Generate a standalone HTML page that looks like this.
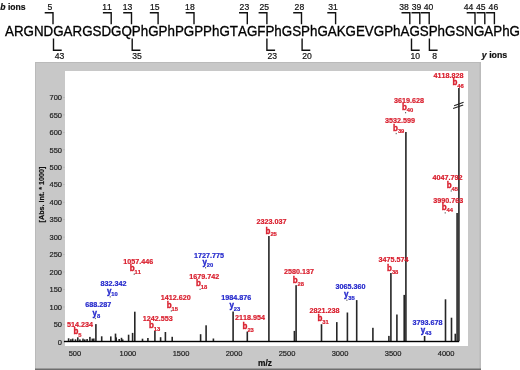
<!DOCTYPE html><html><head><meta charset="utf-8"><style>
html,body{margin:0;padding:0;background:#fff;width:520px;height:370px;overflow:hidden}
svg{will-change:transform}
svg{display:block;font-family:"Liberation Sans",sans-serif;font-kerning:none;font-feature-settings:"kern" 0}
</style></head><body>
<svg width="520" height="370" viewBox="0 0 520 370">
<rect x="35" y="62" width="446" height="308" fill="#c8c8c8"/>
<rect x="479.6" y="62" width="1" height="308" fill="#b4b4b4"/>
<rect x="35" y="62" width="1" height="308" fill="#bababa"/>
<rect x="35" y="62" width="446" height="1" fill="#bababa"/>
<rect x="35" y="368.5" width="446" height="1.5" fill="#6e6e6e"/>
<rect x="65" y="71" width="403" height="275" fill="#fff"/>
<text x="5.0" y="35.7" font-size="13.37" fill="#000" stroke="#000" stroke-width="0.3" transform="translate(0 35.7) scale(1 1.045) translate(0 -35.7)">ARGNDGARGSDGQPhGPhPGPPhGTAGFPhGSPhGAKGEVGPhAGSPhGSNGAPhG</text>
<path d="M44.7 12.8H53.0V24.2" fill="none" stroke="#111" stroke-width="1.4"/>
<text x="50" y="9.7" font-size="8.6" text-anchor="middle" fill="#111" stroke="#111" stroke-width="0.2">5</text>
<path d="M102.9 12.8H111.2V24.2" fill="none" stroke="#111" stroke-width="1.4"/>
<text x="107" y="9.7" font-size="8.6" text-anchor="middle" fill="#111" stroke="#111" stroke-width="0.2">11</text>
<path d="M123.2 12.8H131.5V24.2" fill="none" stroke="#111" stroke-width="1.4"/>
<text x="127.5" y="9.7" font-size="8.6" text-anchor="middle" fill="#111" stroke="#111" stroke-width="0.2">13</text>
<path d="M149.8 12.8H158.1V24.2" fill="none" stroke="#111" stroke-width="1.4"/>
<text x="154.7" y="9.7" font-size="8.6" text-anchor="middle" fill="#111" stroke="#111" stroke-width="0.2">15</text>
<path d="M185.7 12.8H194.0V24.2" fill="none" stroke="#111" stroke-width="1.4"/>
<text x="189.9" y="9.7" font-size="8.6" text-anchor="middle" fill="#111" stroke="#111" stroke-width="0.2">18</text>
<path d="M239.0 12.8H247.3V24.2" fill="none" stroke="#111" stroke-width="1.4"/>
<text x="244.4" y="9.7" font-size="8.6" text-anchor="middle" fill="#111" stroke="#111" stroke-width="0.2">23</text>
<path d="M258.6 12.8H266.9V24.2" fill="none" stroke="#111" stroke-width="1.4"/>
<text x="264.3" y="9.7" font-size="8.6" text-anchor="middle" fill="#111" stroke="#111" stroke-width="0.2">25</text>
<path d="M293.2 12.8H301.5V24.2" fill="none" stroke="#111" stroke-width="1.4"/>
<text x="299.4" y="9.7" font-size="8.6" text-anchor="middle" fill="#111" stroke="#111" stroke-width="0.2">28</text>
<path d="M327.3 12.8H335.6V24.2" fill="none" stroke="#111" stroke-width="1.4"/>
<text x="333" y="9.7" font-size="8.6" text-anchor="middle" fill="#111" stroke="#111" stroke-width="0.2">31</text>
<path d="M401.5 12.8H409.8V24.2" fill="none" stroke="#111" stroke-width="1.4"/>
<text x="404.1" y="9.7" font-size="8.6" text-anchor="middle" fill="#111" stroke="#111" stroke-width="0.2">38</text>
<path d="M411.5 12.8H419.8V24.2" fill="none" stroke="#111" stroke-width="1.4"/>
<text x="416.6" y="9.7" font-size="8.6" text-anchor="middle" fill="#111" stroke="#111" stroke-width="0.2">39</text>
<path d="M420.9 12.8H429.2V24.2" fill="none" stroke="#111" stroke-width="1.4"/>
<text x="428.5" y="9.7" font-size="8.6" text-anchor="middle" fill="#111" stroke="#111" stroke-width="0.2">40</text>
<path d="M466.7 12.8H475.0V24.2" fill="none" stroke="#111" stroke-width="1.4"/>
<text x="468.6" y="9.7" font-size="8.6" text-anchor="middle" fill="#111" stroke="#111" stroke-width="0.2">44</text>
<path d="M476.5 12.8H484.8V24.2" fill="none" stroke="#111" stroke-width="1.4"/>
<text x="480.8" y="9.7" font-size="8.6" text-anchor="middle" fill="#111" stroke="#111" stroke-width="0.2">45</text>
<path d="M486.1 12.8H494.4V24.2" fill="none" stroke="#111" stroke-width="1.4"/>
<text x="493.4" y="9.7" font-size="8.6" text-anchor="middle" fill="#111" stroke="#111" stroke-width="0.2">46</text>
<path d="M53.5 38.4V50.2H61.7" fill="none" stroke="#111" stroke-width="1.4"/>
<text x="59.5" y="58.6" font-size="8.6" text-anchor="middle" fill="#111" stroke="#111" stroke-width="0.2">43</text>
<path d="M132.2 38.4V50.2H140.4" fill="none" stroke="#111" stroke-width="1.4"/>
<text x="137" y="58.6" font-size="8.6" text-anchor="middle" fill="#111" stroke="#111" stroke-width="0.2">35</text>
<path d="M266.9 38.4V50.2H275.1" fill="none" stroke="#111" stroke-width="1.4"/>
<text x="272.3" y="58.6" font-size="8.6" text-anchor="middle" fill="#111" stroke="#111" stroke-width="0.2">23</text>
<path d="M302.1 38.4V50.2H310.3" fill="none" stroke="#111" stroke-width="1.4"/>
<text x="307" y="58.6" font-size="8.6" text-anchor="middle" fill="#111" stroke="#111" stroke-width="0.2">20</text>
<path d="M411.5 38.4V50.2H419.7" fill="none" stroke="#111" stroke-width="1.4"/>
<text x="415.2" y="58.6" font-size="8.6" text-anchor="middle" fill="#111" stroke="#111" stroke-width="0.2">10</text>
<path d="M429.4 38.4V50.2H437.6" fill="none" stroke="#111" stroke-width="1.4"/>
<text x="434.6" y="58.6" font-size="8.6" text-anchor="middle" fill="#111" stroke="#111" stroke-width="0.2">8</text>
<text x="0.3" y="9.6" font-size="8.6" font-weight="bold" fill="#111" stroke="#111" stroke-width="0.2"><tspan font-style="italic">b</tspan> ions</text>
<text x="481.8" y="58.1" font-size="8.8" font-weight="bold" fill="#111" stroke="#111" stroke-width="0.2"><tspan font-style="italic">y</tspan> ions</text>
<text x="62" y="344.6" font-size="7.5" text-anchor="end" fill="#222" stroke="#222" stroke-width="0.2">0</text>
<rect x="63" y="341.6" width="1.8" height="0.6" fill="#aaa"/>
<text x="62" y="327.1" font-size="7.5" text-anchor="end" fill="#222" stroke="#222" stroke-width="0.2">50</text>
<rect x="63" y="324.1" width="1.8" height="0.6" fill="#aaa"/>
<text x="62" y="309.7" font-size="7.5" text-anchor="end" fill="#222" stroke="#222" stroke-width="0.2">100</text>
<rect x="63" y="306.7" width="1.8" height="0.6" fill="#aaa"/>
<text x="62" y="292.2" font-size="7.5" text-anchor="end" fill="#222" stroke="#222" stroke-width="0.2">150</text>
<rect x="63" y="289.2" width="1.8" height="0.6" fill="#aaa"/>
<text x="62" y="274.7" font-size="7.5" text-anchor="end" fill="#222" stroke="#222" stroke-width="0.2">200</text>
<rect x="63" y="271.7" width="1.8" height="0.6" fill="#aaa"/>
<text x="62" y="257.3" font-size="7.5" text-anchor="end" fill="#222" stroke="#222" stroke-width="0.2">250</text>
<rect x="63" y="254.3" width="1.8" height="0.6" fill="#aaa"/>
<text x="62" y="239.8" font-size="7.5" text-anchor="end" fill="#222" stroke="#222" stroke-width="0.2">300</text>
<rect x="63" y="236.8" width="1.8" height="0.6" fill="#aaa"/>
<text x="62" y="222.3" font-size="7.5" text-anchor="end" fill="#222" stroke="#222" stroke-width="0.2">350</text>
<rect x="63" y="219.3" width="1.8" height="0.6" fill="#aaa"/>
<text x="62" y="204.9" font-size="7.5" text-anchor="end" fill="#222" stroke="#222" stroke-width="0.2">400</text>
<rect x="63" y="201.9" width="1.8" height="0.6" fill="#aaa"/>
<text x="62" y="187.4" font-size="7.5" text-anchor="end" fill="#222" stroke="#222" stroke-width="0.2">450</text>
<rect x="63" y="184.4" width="1.8" height="0.6" fill="#aaa"/>
<text x="62" y="169.9" font-size="7.5" text-anchor="end" fill="#222" stroke="#222" stroke-width="0.2">500</text>
<rect x="63" y="166.9" width="1.8" height="0.6" fill="#aaa"/>
<text x="62" y="152.5" font-size="7.5" text-anchor="end" fill="#222" stroke="#222" stroke-width="0.2">550</text>
<rect x="63" y="149.5" width="1.8" height="0.6" fill="#aaa"/>
<text x="62" y="135.0" font-size="7.5" text-anchor="end" fill="#222" stroke="#222" stroke-width="0.2">600</text>
<rect x="63" y="132.0" width="1.8" height="0.6" fill="#aaa"/>
<text x="62" y="117.6" font-size="7.5" text-anchor="end" fill="#222" stroke="#222" stroke-width="0.2">650</text>
<rect x="63" y="114.6" width="1.8" height="0.6" fill="#aaa"/>
<text x="62" y="100.1" font-size="7.5" text-anchor="end" fill="#222" stroke="#222" stroke-width="0.2">700</text>
<rect x="63" y="97.1" width="1.8" height="0.6" fill="#aaa"/>
<text x="74.9" y="356.3" font-size="7.5" text-anchor="middle" fill="#222" stroke="#222" stroke-width="0.2">500</text>
<text x="127.9" y="356.3" font-size="7.5" text-anchor="middle" fill="#222" stroke="#222" stroke-width="0.2">1000</text>
<text x="181.0" y="356.3" font-size="7.5" text-anchor="middle" fill="#222" stroke="#222" stroke-width="0.2">1500</text>
<text x="234.0" y="356.3" font-size="7.5" text-anchor="middle" fill="#222" stroke="#222" stroke-width="0.2">2000</text>
<text x="287.0" y="356.3" font-size="7.5" text-anchor="middle" fill="#222" stroke="#222" stroke-width="0.2">2500</text>
<text x="340.0" y="356.3" font-size="7.5" text-anchor="middle" fill="#222" stroke="#222" stroke-width="0.2">3000</text>
<text x="393.1" y="356.3" font-size="7.5" text-anchor="middle" fill="#222" stroke="#222" stroke-width="0.2">3500</text>
<text x="446.1" y="356.3" font-size="7.5" text-anchor="middle" fill="#222" stroke="#222" stroke-width="0.2">4000</text>
<text x="265" y="365.8" font-size="8.4" font-weight="bold" text-anchor="middle" fill="#111" stroke="#111" stroke-width="0.2">m/z</text>
<text transform="translate(43.6,194.5) rotate(-90)" font-size="7.2" font-weight="bold" text-anchor="middle" fill="#111" stroke="#111" stroke-width="0.2">[Abs. Int. * 1000]</text>
<rect x="67.8" y="338.3" width="1.6" height="2.7" fill="#262626"/>
<rect x="70.1" y="339.2" width="1.6" height="1.8" fill="#262626"/>
<rect x="71.9" y="338.6" width="1.6" height="2.4" fill="#262626"/>
<rect x="74.7" y="339.3" width="1.6" height="1.7" fill="#262626"/>
<rect x="77.0" y="337.3" width="1.6" height="3.7" fill="#262626"/>
<rect x="79.1" y="339.4" width="1.6" height="1.6" fill="#262626"/>
<rect x="82.2" y="338.6" width="1.6" height="2.4" fill="#262626"/>
<rect x="84.0" y="339.4" width="1.6" height="1.6" fill="#262626"/>
<rect x="86.3" y="339.0" width="1.6" height="2.0" fill="#262626"/>
<rect x="89.1" y="336.9" width="1.6" height="4.1" fill="#262626"/>
<rect x="91.5" y="338.6" width="1.6" height="2.4" fill="#262626"/>
<rect x="93.0" y="338.5" width="1.6" height="2.5" fill="#262626"/>
<rect x="95.1" y="324.1" width="1.6" height="16.9" fill="#262626"/>
<rect x="100.9" y="336.3" width="1.6" height="4.7" fill="#262626"/>
<rect x="110.0" y="336.4" width="1.6" height="4.6" fill="#262626"/>
<rect x="114.7" y="333.6" width="1.6" height="7.4" fill="#262626"/>
<rect x="115.4" y="337.4" width="1.6" height="3.6" fill="#262626"/>
<rect x="118.4" y="339.0" width="1.6" height="2.0" fill="#262626"/>
<rect x="120.7" y="337.8" width="1.6" height="3.2" fill="#262626"/>
<rect x="121.9" y="339.4" width="1.6" height="1.6" fill="#262626"/>
<rect x="127.8" y="334.7" width="1.6" height="6.3" fill="#262626"/>
<rect x="131.8" y="332.9" width="1.6" height="8.1" fill="#262626"/>
<rect x="134.0" y="311.7" width="1.6" height="29.3" fill="#262626"/>
<rect x="141.7" y="338.7" width="1.6" height="2.3" fill="#262626"/>
<rect x="147.1" y="338.0" width="1.6" height="3.0" fill="#262626"/>
<rect x="154.1" y="331.0" width="1.6" height="10.0" fill="#262626"/>
<rect x="159.8" y="337.2" width="1.6" height="3.8" fill="#262626"/>
<rect x="164.6" y="332.0" width="1.6" height="9.0" fill="#262626"/>
<rect x="171.4" y="336.8" width="1.6" height="4.2" fill="#262626"/>
<rect x="199.8" y="334.2" width="1.6" height="6.8" fill="#262626"/>
<rect x="205.3" y="325.3" width="1.6" height="15.7" fill="#262626"/>
<rect x="212.6" y="338.5" width="1.6" height="2.5" fill="#262626"/>
<rect x="232.3" y="311.5" width="1.6" height="29.5" fill="#262626"/>
<rect x="246.5" y="331.6" width="1.6" height="9.4" fill="#262626"/>
<rect x="268.1" y="236.0" width="1.6" height="105.0" fill="#262626"/>
<rect x="293.6" y="330.9" width="1.6" height="10.1" fill="#262626"/>
<rect x="295.3" y="285.2" width="1.6" height="55.8" fill="#262626"/>
<rect x="320.7" y="324.2" width="1.6" height="16.8" fill="#262626"/>
<rect x="336.0" y="322.1" width="1.6" height="18.9" fill="#262626"/>
<rect x="346.6" y="312.5" width="1.6" height="28.5" fill="#262626"/>
<rect x="355.9" y="300.1" width="1.6" height="40.9" fill="#262626"/>
<rect x="372.1" y="327.8" width="1.6" height="13.2" fill="#262626"/>
<rect x="388.1" y="335.9" width="1.6" height="5.1" fill="#262626"/>
<rect x="390.1" y="273.0" width="1.6" height="68.0" fill="#262626"/>
<rect x="396.1" y="314.5" width="1.6" height="26.5" fill="#262626"/>
<rect x="403.4" y="294.9" width="1.6" height="46.1" fill="#262626"/>
<rect x="405.1" y="132.0" width="1.6" height="209.0" fill="#262626"/>
<rect x="423.8" y="336.0" width="1.6" height="5.0" fill="#262626"/>
<rect x="444.7" y="299.3" width="1.6" height="41.7" fill="#262626"/>
<rect x="450.7" y="317.7" width="1.6" height="23.3" fill="#262626"/>
<rect x="454.5" y="333.7" width="1.6" height="7.3" fill="#262626"/>
<rect x="456.3" y="213.0" width="1.6" height="128.0" fill="#262626"/>
<rect x="458.1" y="88.0" width="1.6" height="253.0" fill="#262626"/>
<rect x="64" y="340.8" width="395.2" height="1.4" fill="#000"/>
<path d="M454.1 105.8L463.6 102.3M453.1 108.6L463.2 104.9" stroke="#222" stroke-width="1.1"/>
<text x="80.0" y="327.1" font-size="7.2" font-weight="bold" text-anchor="middle" fill="#d91d2c" stroke="#d91d2c" stroke-width="0.2">514.234</text>
<text x="73.4" y="334.3" font-size="8.0" font-weight="bold" fill="#d91d2c" stroke="#d91d2c" stroke-width="0.35" transform="translate(0 334.3) scale(1 1.18) translate(0 -334.3)">b</text>
<text x="78.2" y="336.7" font-size="5.8" font-weight="bold" fill="#d91d2c" stroke="#d91d2c" stroke-width="0.2">5</text>
<text x="98.3" y="307.1" font-size="7.2" font-weight="bold" text-anchor="middle" fill="#2428cc" stroke="#2428cc" stroke-width="0.2">688.287</text>
<text x="92.6" y="315.6" font-size="8.0" font-weight="bold" fill="#2428cc" stroke="#2428cc" stroke-width="0.35" transform="translate(0 315.6) scale(1 1.18) translate(0 -315.6)">y</text>
<text x="96.9" y="318.0" font-size="5.8" font-weight="bold" fill="#2428cc" stroke="#2428cc" stroke-width="0.2">8</text>
<rect x="94.8" y="317.8" width="1" height="1.3" fill="#555"/>
<text x="113.6" y="285.8" font-size="7.2" font-weight="bold" text-anchor="middle" fill="#2428cc" stroke="#2428cc" stroke-width="0.2">832.342</text>
<text x="107.0" y="294.0" font-size="8.0" font-weight="bold" fill="#2428cc" stroke="#2428cc" stroke-width="0.35" transform="translate(0 294.0) scale(1 1.18) translate(0 -294.0)">y</text>
<text x="111.3" y="296.4" font-size="5.8" font-weight="bold" fill="#2428cc" stroke="#2428cc" stroke-width="0.2">10</text>
<rect x="109.7" y="296.2" width="1" height="1.3" fill="#555"/>
<text x="138.2" y="263.6" font-size="7.2" font-weight="bold" text-anchor="middle" fill="#d91d2c" stroke="#d91d2c" stroke-width="0.2">1057.446</text>
<text x="129.7" y="271.4" font-size="8.0" font-weight="bold" fill="#d91d2c" stroke="#d91d2c" stroke-width="0.35" transform="translate(0 271.4) scale(1 1.18) translate(0 -271.4)">b</text>
<text x="134.5" y="273.8" font-size="5.8" font-weight="bold" fill="#d91d2c" stroke="#d91d2c" stroke-width="0.2">11</text>
<rect x="133.7" y="273.6" width="1" height="1.3" fill="#555"/>
<text x="157.8" y="320.9" font-size="7.2" font-weight="bold" text-anchor="middle" fill="#d91d2c" stroke="#d91d2c" stroke-width="0.2">1242.553</text>
<text x="149.0" y="328.4" font-size="8.0" font-weight="bold" fill="#d91d2c" stroke="#d91d2c" stroke-width="0.35" transform="translate(0 328.4) scale(1 1.18) translate(0 -328.4)">b</text>
<text x="153.8" y="330.8" font-size="5.8" font-weight="bold" fill="#d91d2c" stroke="#d91d2c" stroke-width="0.2">13</text>
<text x="175.8" y="300.0" font-size="7.2" font-weight="bold" text-anchor="middle" fill="#d91d2c" stroke="#d91d2c" stroke-width="0.2">1412.620</text>
<text x="166.7" y="308.1" font-size="8.0" font-weight="bold" fill="#d91d2c" stroke="#d91d2c" stroke-width="0.35" transform="translate(0 308.1) scale(1 1.18) translate(0 -308.1)">b</text>
<text x="171.5" y="310.5" font-size="5.8" font-weight="bold" fill="#d91d2c" stroke="#d91d2c" stroke-width="0.2">15</text>
<rect x="170.8" y="310.3" width="1" height="1.3" fill="#555"/>
<text x="204.3" y="279.2" font-size="7.2" font-weight="bold" text-anchor="middle" fill="#d91d2c" stroke="#d91d2c" stroke-width="0.2">1679.742</text>
<text x="196.0" y="286.5" font-size="8.0" font-weight="bold" fill="#d91d2c" stroke="#d91d2c" stroke-width="0.35" transform="translate(0 286.5) scale(1 1.18) translate(0 -286.5)">b</text>
<text x="200.8" y="288.9" font-size="5.8" font-weight="bold" fill="#d91d2c" stroke="#d91d2c" stroke-width="0.2">18</text>
<rect x="199.6" y="288.7" width="1" height="1.3" fill="#555"/>
<text x="208.9" y="257.6" font-size="7.2" font-weight="bold" text-anchor="middle" fill="#2428cc" stroke="#2428cc" stroke-width="0.2">1727.775</text>
<text x="202.4" y="264.9" font-size="8.0" font-weight="bold" fill="#2428cc" stroke="#2428cc" stroke-width="0.35" transform="translate(0 264.9) scale(1 1.18) translate(0 -264.9)">y</text>
<text x="206.7" y="267.3" font-size="5.8" font-weight="bold" fill="#2428cc" stroke="#2428cc" stroke-width="0.2">20</text>
<rect x="205.1" y="267.1" width="1" height="1.3" fill="#555"/>
<text x="236.3" y="300.2" font-size="7.2" font-weight="bold" text-anchor="middle" fill="#2428cc" stroke="#2428cc" stroke-width="0.2">1984.876</text>
<text x="229.5" y="308.4" font-size="8.0" font-weight="bold" fill="#2428cc" stroke="#2428cc" stroke-width="0.35" transform="translate(0 308.4) scale(1 1.18) translate(0 -308.4)">y</text>
<text x="233.8" y="310.8" font-size="5.8" font-weight="bold" fill="#2428cc" stroke="#2428cc" stroke-width="0.2">23</text>
<text x="250.0" y="320.3" font-size="7.2" font-weight="bold" text-anchor="middle" fill="#d91d2c" stroke="#d91d2c" stroke-width="0.2">2118.954</text>
<text x="242.6" y="329.4" font-size="8.0" font-weight="bold" fill="#d91d2c" stroke="#d91d2c" stroke-width="0.35" transform="translate(0 329.4) scale(1 1.18) translate(0 -329.4)">b</text>
<text x="247.4" y="331.8" font-size="5.8" font-weight="bold" fill="#d91d2c" stroke="#d91d2c" stroke-width="0.2">23</text>
<text x="271.6" y="223.6" font-size="7.2" font-weight="bold" text-anchor="middle" fill="#d91d2c" stroke="#d91d2c" stroke-width="0.2">2323.037</text>
<text x="265.6" y="233.7" font-size="8.0" font-weight="bold" fill="#d91d2c" stroke="#d91d2c" stroke-width="0.35" transform="translate(0 233.7) scale(1 1.18) translate(0 -233.7)">b</text>
<text x="270.4" y="236.1" font-size="5.8" font-weight="bold" fill="#d91d2c" stroke="#d91d2c" stroke-width="0.2">25</text>
<text x="299.1" y="273.6" font-size="7.2" font-weight="bold" text-anchor="middle" fill="#d91d2c" stroke="#d91d2c" stroke-width="0.2">2580.137</text>
<text x="292.7" y="283.1" font-size="8.0" font-weight="bold" fill="#d91d2c" stroke="#d91d2c" stroke-width="0.35" transform="translate(0 283.1) scale(1 1.18) translate(0 -283.1)">b</text>
<text x="297.5" y="285.5" font-size="5.8" font-weight="bold" fill="#d91d2c" stroke="#d91d2c" stroke-width="0.2">28</text>
<text x="324.4" y="313.3" font-size="7.2" font-weight="bold" text-anchor="middle" fill="#d91d2c" stroke="#d91d2c" stroke-width="0.2">2821.238</text>
<text x="317.4" y="321.5" font-size="8.0" font-weight="bold" fill="#d91d2c" stroke="#d91d2c" stroke-width="0.35" transform="translate(0 321.5) scale(1 1.18) translate(0 -321.5)">b</text>
<text x="322.2" y="323.9" font-size="5.8" font-weight="bold" fill="#d91d2c" stroke="#d91d2c" stroke-width="0.2">31</text>
<text x="350.4" y="288.5" font-size="7.2" font-weight="bold" text-anchor="middle" fill="#2428cc" stroke="#2428cc" stroke-width="0.2">3065.360</text>
<text x="343.9" y="297.4" font-size="8.0" font-weight="bold" fill="#2428cc" stroke="#2428cc" stroke-width="0.35" transform="translate(0 297.4) scale(1 1.18) translate(0 -297.4)">y</text>
<text x="348.2" y="299.8" font-size="5.8" font-weight="bold" fill="#2428cc" stroke="#2428cc" stroke-width="0.2">35</text>
<rect x="346.4" y="299.6" width="1" height="1.3" fill="#555"/>
<text x="393.5" y="261.9" font-size="7.2" font-weight="bold" text-anchor="middle" fill="#d91d2c" stroke="#d91d2c" stroke-width="0.2">3475.574</text>
<text x="387.1" y="271.1" font-size="8.0" font-weight="bold" fill="#d91d2c" stroke="#d91d2c" stroke-width="0.35" transform="translate(0 271.1) scale(1 1.18) translate(0 -271.1)">b</text>
<text x="391.9" y="273.5" font-size="5.8" font-weight="bold" fill="#d91d2c" stroke="#d91d2c" stroke-width="0.2">38</text>
<text x="399.9" y="123.0" font-size="7.2" font-weight="bold" text-anchor="middle" fill="#d91d2c" stroke="#d91d2c" stroke-width="0.2">3532.599</text>
<text x="393.1" y="130.7" font-size="8.0" font-weight="bold" fill="#d91d2c" stroke="#d91d2c" stroke-width="0.35" transform="translate(0 130.7) scale(1 1.18) translate(0 -130.7)">b</text>
<text x="397.9" y="133.1" font-size="5.8" font-weight="bold" fill="#d91d2c" stroke="#d91d2c" stroke-width="0.2">39</text>
<rect x="395.7" y="132.9" width="1" height="1.3" fill="#555"/>
<text x="408.9" y="102.5" font-size="7.2" font-weight="bold" text-anchor="middle" fill="#d91d2c" stroke="#d91d2c" stroke-width="0.2">3619.628</text>
<text x="401.9" y="109.8" font-size="8.0" font-weight="bold" fill="#d91d2c" stroke="#d91d2c" stroke-width="0.35" transform="translate(0 109.8) scale(1 1.18) translate(0 -109.8)">b</text>
<text x="406.7" y="112.2" font-size="5.8" font-weight="bold" fill="#d91d2c" stroke="#d91d2c" stroke-width="0.2">40</text>
<rect x="405.1" y="112.0" width="1" height="1.3" fill="#555"/>
<text x="427.6" y="325.1" font-size="7.2" font-weight="bold" text-anchor="middle" fill="#2428cc" stroke="#2428cc" stroke-width="0.2">3793.678</text>
<text x="420.7" y="333.0" font-size="8.0" font-weight="bold" fill="#2428cc" stroke="#2428cc" stroke-width="0.35" transform="translate(0 333.0) scale(1 1.18) translate(0 -333.0)">y</text>
<text x="425.0" y="335.4" font-size="5.8" font-weight="bold" fill="#2428cc" stroke="#2428cc" stroke-width="0.2">43</text>
<text x="448.3" y="202.6" font-size="7.2" font-weight="bold" text-anchor="middle" fill="#d91d2c" stroke="#d91d2c" stroke-width="0.2">3990.763</text>
<text x="441.8" y="210.0" font-size="8.0" font-weight="bold" fill="#d91d2c" stroke="#d91d2c" stroke-width="0.35" transform="translate(0 210.0) scale(1 1.18) translate(0 -210.0)">b</text>
<text x="446.6" y="212.4" font-size="5.8" font-weight="bold" fill="#d91d2c" stroke="#d91d2c" stroke-width="0.2">44</text>
<rect x="444.7" y="212.2" width="1" height="1.3" fill="#555"/>
<text x="447.5" y="180.3" font-size="7.2" font-weight="bold" text-anchor="middle" fill="#d91d2c" stroke="#d91d2c" stroke-width="0.2">4047.792</text>
<text x="446.7" y="188.1" font-size="8.0" font-weight="bold" fill="#d91d2c" stroke="#d91d2c" stroke-width="0.35" transform="translate(0 188.1) scale(1 1.18) translate(0 -188.1)">b</text>
<text x="451.5" y="190.5" font-size="5.8" font-weight="bold" fill="#d91d2c" stroke="#d91d2c" stroke-width="0.2">45</text>
<rect x="450.7" y="190.3" width="1" height="1.3" fill="#555"/>
<text x="448.5" y="77.8" font-size="7.2" font-weight="bold" text-anchor="middle" fill="#d91d2c" stroke="#d91d2c" stroke-width="0.2">4118.828</text>
<text x="452.5" y="85.1" font-size="8.0" font-weight="bold" fill="#d91d2c" stroke="#d91d2c" stroke-width="0.35" transform="translate(0 85.1) scale(1 1.18) translate(0 -85.1)">b</text>
<text x="457.3" y="87.5" font-size="5.8" font-weight="bold" fill="#d91d2c" stroke="#d91d2c" stroke-width="0.2">46</text>
</svg></body></html>
